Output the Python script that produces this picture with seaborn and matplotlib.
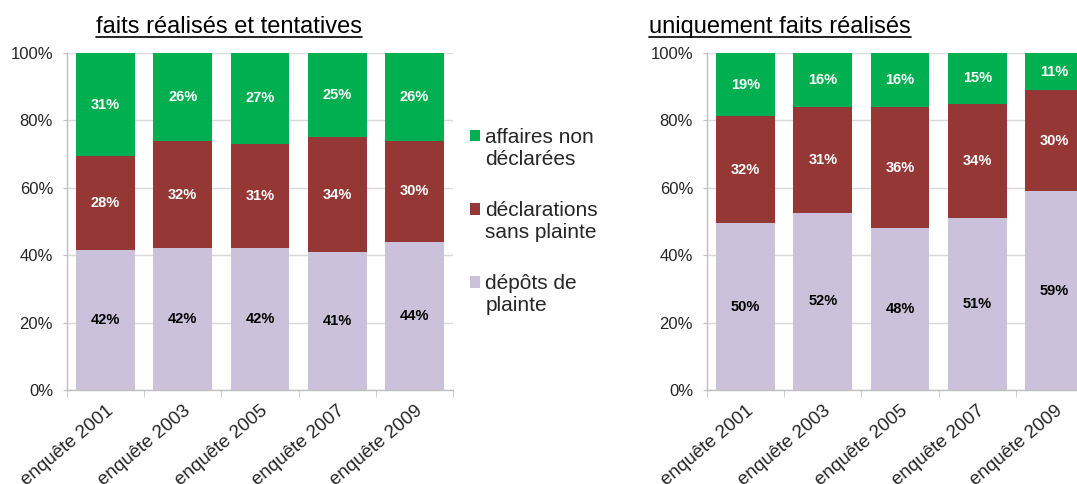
import pandas as pd
import matplotlib.pyplot as plt
import seaborn as sns
from matplotlib.patches import Patch, Rectangle
from matplotlib.lines import Line2D
from matplotlib.legend_handler import HandlerPatch

# Catégories (enquêtes)
enquetes = ['enquête 2001', 'enquête 2003', 'enquête 2005', 'enquête 2007', 'enquête 2009']

# faits réalisés et tentatives (%)
tent_plainte = [42, 42, 42, 41, 44]
tent_sans_plainte = [28, 32, 31, 34, 30]
tent_non_declarees = [31, 26, 27, 25, 26]

# uniquement faits réalisés (%)
real_plainte = [50, 52, 48, 51, 59]
real_sans_plainte = [32, 31, 36, 34, 30]
real_non_declarees = [19, 16, 16, 15, 11]

series = ['affaires non\ndéclarées', 'déclarations\nsans plainte', 'dépôts de\nplainte']
couleurs = ['#00B050', '#953735', '#CCC1DA']
titres = ['faits réalisés et tentatives', 'uniquement faits réalisés']

sns.set_style('white')
plt.rcParams['font.family'] = ['Liberation Sans', 'DejaVu Sans']

fig = plt.figure(figsize=(10.77, 4.84), dpi=100)
ax1 = fig.add_axes([67 / 1077, 94 / 484, 386 / 1077, 337 / 484])
ax2 = fig.add_axes([707 / 1077, 94 / 484, 386 / 1077, 337 / 484])


def empiler(ax, plainte, sans_plainte, non_decl):
    df = pd.DataFrame({'enquete': enquetes, 'plainte': plainte,
                       'sans': sans_plainte, 'non': non_decl})
    total = df['plainte'] + df['sans'] + df['non']
    df['p'] = df['plainte'] / total * 100
    df['s'] = df['sans'] / total * 100
    df['n'] = df['non'] / total * 100
    df['milieu'] = df['p'] + df['s']
    df['haut'] = df['milieu'] + df['n']

    # barres superposées : cumul total, puis cumul bas+milieu, puis bas
    for col, c in zip(['haut', 'milieu', 'p'], couleurs):
        sns.barplot(data=df, x='enquete', y=col, color=c, width=0.76,
                    saturation=1, linewidth=0, ax=ax)

    for i, row in df.iterrows():
        ax.text(i, row['p'] / 2, f"{row['plainte']}%", ha='center', va='center',
                fontsize=10.5, fontweight='bold', color='black')
        ax.text(i, row['p'] + row['s'] / 2, f"{row['sans']}%", ha='center', va='center',
                fontsize=10.5, fontweight='bold', color='white')
        ax.text(i, row['milieu'] + row['n'] / 2, f"{row['non']}%", ha='center', va='center',
                fontsize=10.5, fontweight='bold', color='white')

    ax.set_ylim(0, 100)
    ax.set_xlim(-0.5, 4.5)
    ax.set_yticks([0, 20, 40, 60, 80, 100])
    ax.set_yticklabels(['0%', '20%', '40%', '60%', '80%', '100%'])
    ax.set_xlabel('')
    ax.set_ylabel('')
    ax.set_axisbelow(True)
    ax.yaxis.grid(True, color='#D9D9D9', linewidth=1)
    ax.xaxis.grid(False)
    for s in ['top', 'right']:
        ax.spines[s].set_visible(False)
    for s in ['left', 'bottom']:
        ax.spines[s].set_color('#BFBFBF')
        ax.spines[s].set_linewidth(1)
    ax.tick_params(axis='y', left=True, length=3, color='#BFBFBF', pad=7,
                   labelsize=12, labelcolor='#262626')
    ax.set_xticks([-0.5, 0.5, 1.5, 2.5, 3.5, 4.5], minor=True)
    ax.tick_params(axis='x', which='minor', bottom=True, length=5, color='#BFBFBF')
    ax.tick_params(axis='x', which='major', bottom=False, length=0, pad=9,
                   labelsize=13.5, labelcolor='#262626')
    for lab in ax.get_xticklabels():
        lab.set_rotation(40)
        lab.set_ha('right')
        lab.set_rotation_mode('anchor')


empiler(ax1, tent_plainte, tent_sans_plainte, tent_non_declarees)
empiler(ax2, real_plainte, real_sans_plainte, real_non_declarees)


# carré de légende aligné sur la première ligne du libellé
class CarreHaut(HandlerPatch):
    def create_artists(self, legend, orig_handle, xdescent, ydescent,
                       width, height, fontsize, trans):
        p = Rectangle((-xdescent, -ydescent + 0.62 * fontsize), width, height,
                      facecolor=orig_handle.get_facecolor(), linewidth=0,
                      transform=trans)
        return [p]


poignees = [Patch(facecolor=c) for c in couleurs]
fig.legend(poignees, series, loc='upper left', bbox_to_anchor=(451 / 1077, 1 - 109 / 484),
           frameon=False, fontsize=15, handlelength=0.5, handleheight=0.5,
           handletextpad=0.25, labelspacing=1.55,
           handler_map={Patch: CarreHaut()})

# titres soulignés
titres_txt = [fig.text(229 / 1077, 1 - 33 / 484, titres[0], ha='center', va='baseline',
                       fontsize=17, color='black'),
              fig.text(780 / 1077, 1 - 33 / 484, titres[1], ha='center', va='baseline',
                       fontsize=17, color='black')]
fig.canvas.draw()
rend = fig.canvas.get_renderer()
for t in titres_txt:
    bb = t.get_window_extent(rend).transformed(fig.transFigure.inverted())
    fig.add_artist(Line2D([bb.x0, bb.x1], [1 - 37 / 484] * 2, transform=fig.transFigure,
                          color='black', linewidth=1.2))

fig.savefig('out.png', dpi=100)
